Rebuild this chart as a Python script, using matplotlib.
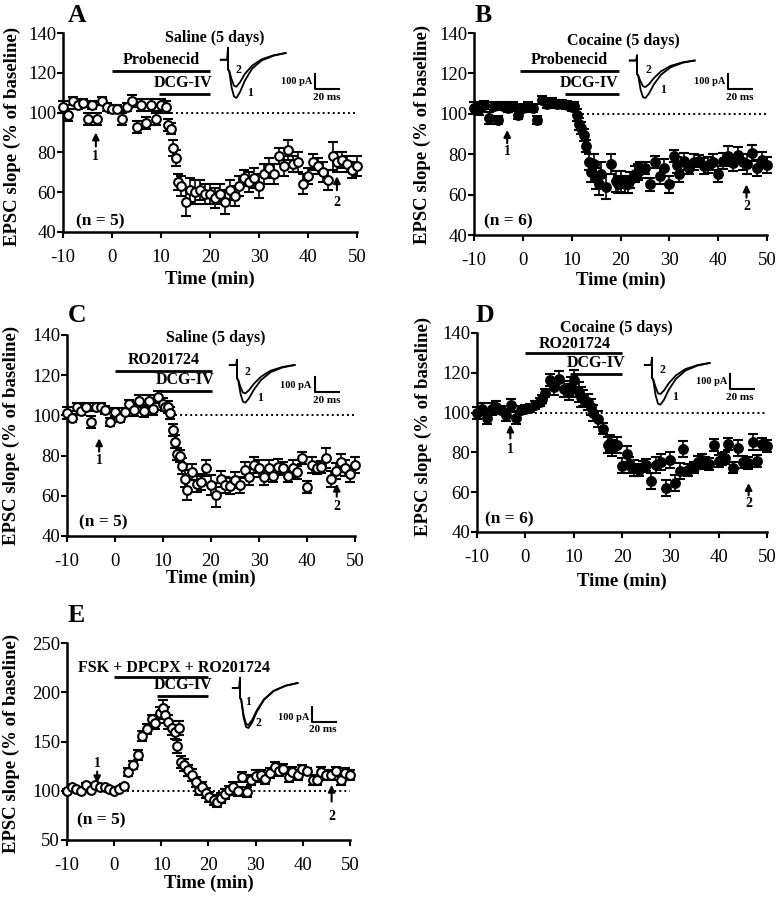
import numpy as np
import matplotlib
matplotlib.use('Agg')
import matplotlib.pyplot as plt

plt.rcParams['font.family'] = ['Liberation Serif', 'DejaVu Serif']
plt.rcParams['axes.unicode_minus'] = False

W, H = 776, 899

# ---- data (time in min, EPSC slope in % of baseline) ----
A_t = [-10, -9, -8, -7, -6, -5, -4, -3, -2, -1, 0, 1, 2, 3, 4, 5, 6, 7, 8, 9, 10,
       11, 11.5, 12, 12.5, 13, 13.5, 14,
       15, 16, 17, 18, 19, 20, 21, 22, 23, 24, 25, 26, 27, 28, 29, 30, 31, 32, 33, 34,
       35, 36, 37, 38, 39, 40, 41, 42, 43, 44, 45, 46, 47, 48, 49, 50]
A_y = [103, 99, 106, 104, 105, 97, 104, 97, 106, 103, 102, 102, 97, 103, 106, 93, 104, 95, 104, 97, 104,
       103, 94, 92, 82, 77, 65, 63,
       55, 61, 60, 61, 59, 59, 57, 59, 55, 61, 58, 63, 67, 65, 67, 63, 69, 72, 69, 78,
       73, 81, 74, 75, 64, 68, 75, 73, 70, 66, 78, 75, 76, 74, 71, 73]
A_err = [3, 3, 2, 2, 2, 3, 2, 3, 2, 2, 2, 2, 3, 2, 3, 3, 3, 3, 3, 3, 3,
         3, 3, 3, 4, 4, 4, 5,
         7, 6, 6, 5, 5, 5, 5, 5, 6, 5, 5, 5, 4, 5, 5, 6, 5, 5, 5, 4,
         5, 5, 4, 5, 5, 4, 4, 4, 5, 5, 7, 5, 4, 4, 4, 5]

B_t = [-10, -9, -8, -7, -6, -5, -4, -3, -2, -1, 0, 1, 2, 3, 4, 5, 6, 7, 8, 9, 10,
       10.5, 11, 11.5, 12, 12.5, 13, 13.5, 14, 14.5, 15, 15.5, 16,
       17, 18, 19, 19.5, 20, 21, 21.5, 22, 23, 23.5,
       24, 25, 26, 27, 28, 29, 30, 31, 31.5,
       32, 33, 34, 35, 36, 37, 38, 39, 40, 41, 42, 43, 44, 45, 46, 47, 48, 49, 50]
B_y = [103, 102.5, 104.5, 98, 104, 97, 104, 103, 104, 99.5, 103, 103.6, 103, 97, 107, 105, 106, 105, 105, 104.5, 103.6,
       104, 99.5, 95, 93, 89.6, 84, 76, 71, 75, 68, 65, 70,
       64, 75, 66.5, 65, 66.5, 65, 65, 67.3, 70, 71,
       72, 73, 65, 76, 69, 73.4, 65, 79, 74.8,
       70, 76.4, 73, 76, 76.7, 74, 74.8, 76, 70, 76.7, 79, 75.6, 79.4, 76, 75, 80.5, 73, 77, 74.8]
B_err = [3, 3, 2, 3, 2, 2, 2, 2, 2, 2, 2, 2, 2, 2, 2, 2, 2, 2, 2, 2, 2,
         2, 3, 3, 3, 3, 3, 4, 5, 5, 5, 5, 6,
         6, 5, 5, 4, 5, 4, 4, 4, 4, 4,
         4, 3, 3, 3, 4, 4, 4, 3, 4,
         4, 4, 3, 4, 3, 4, 4, 4, 4, 4, 5, 4, 4, 4, 5, 4, 4, 4, 4]

C_t = [-10, -9, -8, -7, -6, -5, -4, -3, -2, -1, 0, 1, 2, 3, 4, 5, 6, 7, 8, 9, 10,
       10.5, 11, 11.5, 12, 12.5, 13, 13.5, 14, 14.5,
       15, 16, 17, 18, 19, 20, 21, 22, 23, 24, 25, 26, 27, 28, 29, 30, 31, 32, 33, 34,
       35, 36, 37, 38, 39, 40, 41, 42, 43, 44, 45, 46, 47, 48, 49, 50]
C_y = [101, 98.5, 104, 102, 104, 96.5, 104, 104, 102.6, 96.5, 101.5, 98.5, 101.5, 105.5, 102.6, 107, 102, 107, 103, 109, 105.5,
       104, 104, 101, 92.7, 87, 81, 80, 75, 68.6,
       63, 72, 66, 67, 74, 65.3, 60.4, 68.3, 65.3, 65, 68, 65.3, 72.8, 69.5, 75.3, 73.6, 69.5, 74, 70, 74.5,
       73.6, 70, 73.6, 71.6, 78.6, 64.5, 75.3, 74, 74.5, 78.6, 68.3, 72.3, 76.6, 74, 71, 75.3]
C_err = [3, 2, 2, 2, 2, 3, 2, 2, 2, 2, 2, 2, 2, 2, 3, 3, 3, 3, 3, 3, 3,
         2, 3, 3, 3, 3, 3, 3, 4, 4,
         5, 4, 4, 4, 4, 5, 6, 4, 4, 4, 4, 4, 4, 4, 4, 4, 4, 4, 3, 4,
         3, 3, 4, 3, 3, 3, 4, 3, 3, 5, 4, 4, 4, 4, 4, 4]

D_t = [-10, -9, -8, -7, -6, -5, -4, -3, -2, -1, 0, 1, 2, 3,
       3.5, 4, 5, 6, 7, 8, 9, 9.5, 10,
       11, 11.5, 12, 13, 13.5, 14, 15, 16,
       17, 17.5, 18, 19, 20, 21, 21.5, 22.5, 23.5, 24.3, 25,
       26, 27, 28, 29, 30, 31, 32,
       32.7, 33.7, 34.8, 35.7, 36.5, 37.2, 38, 39,
       40, 40.6, 41.3, 42, 43, 44, 45, 46, 47, 48, 49, 50]
D_y = [100, 102, 97.5, 102, 103, 101.3, 99, 104, 97.5, 101.3, 102, 102.5, 104, 105.5,
       107, 110, 116.4, 113, 117, 112, 110.5, 113, 116.4,
       110.5, 108, 107.5, 105.5, 103, 100, 97, 92,
       83.8, 84.6, 82.4, 83.8, 73.4, 79, 73.7, 72, 71, 72.9, 73.7,
       65.7, 73.7, 75, 62, 76.2, 64.5, 70.7,
       81.7, 71.2, 72.4, 75, 76.2, 74.5, 74, 83.8,
       75.7, 76.7, 77, 84, 72.4, 82, 75.4, 74.5, 85, 75.7, 84, 83.4]
D_err = [3, 3, 3, 3, 3, 2, 3, 3, 3, 2, 2, 2, 2, 2,
         2, 2, 3, 4, 4, 4, 4, 5, 5,
         5, 5, 4, 4, 4, 4, 4, 3,
         4, 4, 4, 4, 4, 4, 4, 4, 3, 3, 3,
         4, 4, 4, 4, 4, 4, 4,
         4, 3, 3, 3, 3, 3, 3, 3,
         3, 3, 3, 3, 3, 4, 3, 3, 4, 3, 3, 3]

E_t = [-10, -9, -8, -7, -6, -5, -4, -3, -2, -1, 0, 1, 2, 3, 4, 5, 6, 7, 8,
       8.7, 9.8, 10.3, 10.8, 11.4, 12.3, 13, 13.4, 13.8, 14.2,
       14.9, 15.7, 16.4, 17.3, 17.9, 18.6, 19.5, 20.2, 21.1, 21.8,
       22.7, 23.6, 24.4, 25.3, 26.3, 27.1, 28.2, 29.1, 30.1, 31.2,
       32, 33.1, 34.2, 35, 35.9, 37, 37.8, 38.9, 39.8, 40.9,
       42.1, 43, 43.9, 44.9, 46, 47, 48, 49, 49.9]
E_y = [100, 103.7, 102, 99.3, 105.4, 100.3, 105.4, 103.7, 103.7, 101.3, 99.3, 102, 104.7, 119, 125.7, 136, 155.5, 163, 172.4,
       169, 179, 184, 177, 169.7, 163.6, 159.6, 145, 163.6, 129,
       126.4, 120.6, 116.2, 108.8, 100.3, 103.7, 98, 93.6, 90.2, 88.5,
       92.6, 97, 100.3, 103.7, 99.3, 113.9, 98.6, 110.5, 115, 116.2,
       111.5, 118.3, 124, 119.6, 121.7, 114, 119, 116.2, 121.7, 119.6,
       110.5, 110.5, 119, 115.6, 116.2, 119.6, 110.5, 118.3, 116.2]
E_err = [2, 2, 2, 2, 2, 2, 2, 2, 2, 2, 2, 2, 2, 4, 4, 5, 5, 5, 5,
         6, 6, 8, 8, 7, 7, 7, 7, 7, 6,
         6, 6, 6, 5, 5, 5, 5, 5, 5, 5,
         5, 5, 5, 5, 5, 5, 5, 5, 6, 5,
         5, 5, 5, 5, 5, 5, 5, 5, 4, 4,
         5, 5, 5, 5, 5, 5, 5, 5, 5]

# example EPSC traces (ms, pA); 1 = before, 2 = after
TR_T = [-6, -0.5, 0, 0, 1, 3, 5, 7, 10, 14, 20, 28, 38, 48]
A_TR1 = [-45, -45, 35, -110, -120, -230, -290, -300, -260, -185, -105, -50, -18, 0]
A_TR2 = [-45, -45, 35, -110, -120, -175, -218, -225, -195, -140, -85, -42, -15, 0]
B_TR1 = [0, 0, 35, -90, -100, -195, -245, -250, -220, -160, -95, -45, -15, 0]
B_TR2 = [0, 0, 35, -90, -100, -140, -172, -177, -158, -118, -72, -36, -12, 0]
C_TR1 = [0, 0, 35, -90, -100, -195, -245, -251, -222, -165, -100, -48, -16, 0]
C_TR2 = [0, 0, 35, -90, -100, -150, -184, -189, -168, -126, -78, -38, -13, 0]
D_TR1 = [-13, -13, 35, -100, -110, -215, -272, -278, -245, -178, -105, -50, -17, 0]
D_TR2 = [-13, -13, 35, -100, -110, -160, -202, -207, -183, -135, -82, -40, -14, 0]
E_TR1 = [-33, -33, 35, -100, -110, -215, -273, -280, -248, -182, -108, -52, -18, 0]
E_TR2 = [-33, -33, 35, -100, -110, -230, -292, -300, -265, -192, -112, -54, -18, 0]

XTICKS = [-10, 0, 10, 20, 30, 40, 50]
YTICKS_AD = [40, 60, 80, 100, 120, 140]
YTICKS_E = [50, 100, 150, 200, 250]

fig = plt.figure(figsize=(W / 100, H / 100), dpi=100)


def px_axes(left, top, right, bottom):
    return fig.add_axes([left / W, 1 - bottom / H, (right - left) / W, (bottom - top) / H])


def panel(box, t, y, err, filled, ylim, yticks, ylab_xy, xlab_y, dot_from):
    ax = px_axes(*box)
    ax.plot([dot_from, 50], [100, 100], color='k', lw=1.4, ls=(0, (1, 1.6)), zorder=1)
    ax.errorbar(t, y, yerr=err, fmt='o', ms=6.3, mfc='k' if filled else 'white', mec='k',
                mew=1.5, ecolor='k', elinewidth=1.2, capsize=3.3, capthick=1.2,
                zorder=3, clip_on=False)
    ax.set_xlim(-10, 50)
    ax.set_ylim(*ylim)
    ax.set_xticks(XTICKS)
    ax.set_yticks(yticks)
    for s in ['top', 'right']:
        ax.spines[s].set_visible(False)
    for s in ['left', 'bottom']:
        ax.spines[s].set_linewidth(1.8)
    ax.tick_params(axis='both', direction='out', length=4, width=1.5, labelsize=13.5)
    ax.tick_params(axis='x', pad=8)
    ax.tick_params(axis='y', pad=1)
    ax.set_ylabel('EPSC slope (% of baseline)', fontsize=13.5, fontweight='bold', va='center')
    ax.yaxis.set_label_coords(*ylab_xy)
    ax.set_xlabel('Time (min)', fontsize=13.5, fontweight='bold', va='center')
    ax.xaxis.set_label_coords(0.5, xlab_y)
    return ax


def bar(ax, x0, x1, yb, label, lx, ly):
    ax.plot([x0, x1], [yb, yb], color='k', lw=2, solid_capstyle='butt', clip_on=False)
    ax.text(lx, ly, label, ha='center', va='bottom', fontsize=11.5, fontweight='bold')


def arrow(ax, x, tail, head, label, ly):
    ax.annotate('', xy=(x, head), xytext=(x, tail),
                arrowprops=dict(arrowstyle='-|>', color='k', lw=1.5, mutation_scale=10,
                                shrinkA=0, shrinkB=0))
    ax.text(x, ly, label, ha='center', va='center', fontsize=10, fontweight='bold')


def traces(x0, y0, tr1, tr2, bx, by, pa_xy, ms_xy, l1, l2):
    # x0, y0: figure pixel of (0 ms, 0 pA); 1.2 px per ms, 0.15 px per pA
    sx, sy = 1.2, 0.15
    ia = px_axes(x0 - 10 * sx, y0 - 110 * sy, x0 + 110 * sx, y0 + 330 * sy)
    ia.set_xlim(-10, 110)
    ia.set_ylim(-330, 110)
    ia.axis('off')
    ia.plot(TR_T, tr1, color='k', lw=1.3)
    ia.plot(TR_T, tr2, color='k', lw=1.3)

    def c(p):
        return (p[0] - x0) / sx, (y0 - p[1]) / sy
    bt, bi = c((bx, by))
    ia.plot([bt, bt, bt + 20], [bi + 100, bi, bi], color='k', lw=1.5, clip_on=False)
    ia.text(*c(pa_xy), '100 pA', ha='right', va='center', fontsize=7.5, fontweight='bold')
    ia.text(*c(ms_xy), '20 ms', ha='center', va='center', fontsize=8, fontweight='bold')
    ia.text(*c(l1[:2]), l1[2], ha='center', va='center', fontsize=8.5, fontweight='bold')
    ia.text(*c(l2[:2]), l2[2], ha='center', va='center', fontsize=8.5, fontweight='bold')


def letter(x, y, s):
    fig.text(x / W, 1 - y / H, s, fontsize=18.5, fontweight='bold', va='baseline')


# ---- A ----
ax = panel((63, 33, 357, 232), A_t, A_y, A_err, False, (40, 140), YTICKS_AD,
           (-0.173, 0.48), -0.24, 12)
ax.text(21, 137.5, 'Saline (5 days)', ha='center', va='center', fontsize=11.5, fontweight='bold')
bar(ax, 0, 20, 120.7, 'Probenecid', 10, 122.2)
bar(ax, 9.5, 20, 109.3, 'DCG-IV', 14.4, 110.8)
arrow(ax, -3.3, 83, 90, '1', 78)
arrow(ax, 45.9, 61, 68, '2', 54.6)
ax.text(-7.3, 45.4, '(n = 5)', ha='left', va='center', fontsize=12.5, fontweight='bold')
traces(228, 53, A_TR1, A_TR2, 315, 89, (312, 82), (327, 98), (250, 93, '1'), (238, 70, '2'))
letter(68, 22, 'A')

# ---- B ----
ax = panel((474, 33, 767, 235), B_t, B_y, B_err, True, (40, 140), YTICKS_AD,
           (-0.178, 0.5), -0.223, 11)
ax.text(20.6, 136, 'Cocaine (5 days)', ha='center', va='center', fontsize=11.5, fontweight='bold')
bar(ax, -0.5, 19.6, 121, 'Probenecid', 9.5, 122.5)
bar(ax, 8.7, 19.6, 109.8, 'DCG-IV', 13.6, 111.2)
arrow(ax, -3.2, 85.5, 92, '1', 81.5)
arrow(ax, 45.8, 58.5, 65, '2', 54)
ax.text(-8, 46.6, '(n = 6)', ha='left', va='center', fontsize=12.5, fontweight='bold')
traces(637, 60.5, B_TR1, B_TR2, 728, 89, (725, 81), (740, 98), (663, 90, '1'), (648, 70, '2'))
letter(475, 22, 'B')

# ---- C ----
ax = panel((67, 335, 355, 536), C_t, C_y, C_err, False, (40, 140), YTICKS_AD,
           (-0.192, 0.5), -0.21, 11.5)
ax.text(20.9, 138.3, 'Saline (5 days)', ha='center', va='center', fontsize=11.5, fontweight='bold')
bar(ax, 0, 20.2, 122, 'RO201724', 10.1, 123.5)
bar(ax, 9.3, 20.2, 112.3, 'DCG-IV', 14.6, 113.7)
arrow(ax, -3.3, 82, 88.6, '1', 77.8)
arrow(ax, 46.2, 59.6, 66, '2', 54.6)
ax.text(-7.4, 47, '(n = 5)', ha='left', va='center', fontsize=12.5, fontweight='bold')
traces(237, 365, C_TR1, C_TR2, 315, 392, (311, 386), (327, 401), (260, 398, '1'), (247, 372, '2'))
letter(68, 322, 'C')

# ---- D ----
ax = panel((477, 333, 767, 532), D_t, D_y, D_err, True, (40, 140), YTICKS_AD,
           (-0.185, 0.53), -0.25, 2)
ax.text(18.9, 142.6, 'Cocaine (5 days)', ha='center', va='center', fontsize=11.5,
        fontweight='bold', clip_on=False)
bar(ax, 0, 20, 130, 'RO201724', 10.2, 130.6)
bar(ax, 9.2, 20, 119.6, 'DCG-IV', 14.7, 121)
arrow(ax, -3.1, 87, 94, '1', 81.6)
arrow(ax, 46.2, 58.4, 64.6, '2', 54.3)
ax.text(-8.4, 46.2, '(n = 6)', ha='left', va='center', fontsize=12.5, fontweight='bold')
traces(652, 363, D_TR1, D_TR2, 730, 389, (727, 381), (740, 397), (675, 397, '1'), (662, 370, '2'))
letter(476, 322, 'D')

# ---- E ----
ax = panel((67, 643, 350, 840), E_t, E_y, E_err, False, (50, 250), YTICKS_E,
           (-0.195, 0.49), -0.22, 2.7)
ax.text(12.6, 224.6, 'FSK + DPCPX + RO201724', ha='center', va='center', fontsize=11.5,
        fontweight='bold')
ax.plot([0, 20], [215, 215], color='k', lw=2, solid_capstyle='butt')
bar(ax, 9, 20, 196, 'DCG-IV', 14.7, 199)
arrow(ax, -3.6, 119.5, 107.6, '1', 128)
arrow(ax, 46.1, 89, 106, '2', 73.7)
ax.text(-7.9, 70.3, '(n = 5)', ha='left', va='center', fontsize=12.5, fontweight='bold')
traces(240, 683, E_TR1, E_TR2, 312, 722, (309, 717), (323, 730), (248, 702, '1'), (258, 723, '2'))
letter(68, 622, 'E')

fig.savefig('out.png', dpi=100)
